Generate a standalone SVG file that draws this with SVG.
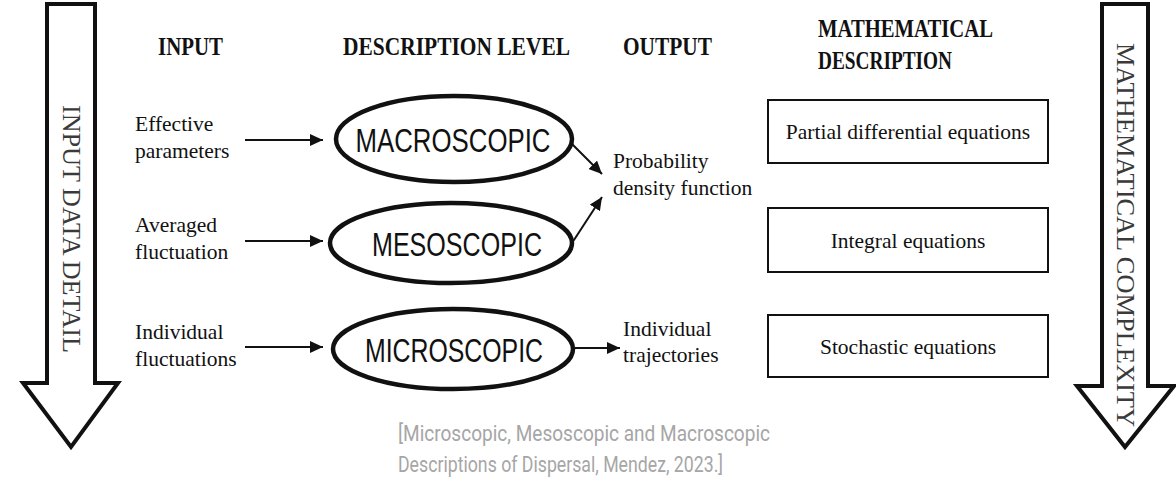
<svg xmlns="http://www.w3.org/2000/svg" width="1176" height="498" viewBox="0 0 1176 498">
<style>
.big{fill:#fff;stroke:#111;stroke-width:4;stroke-linejoin:miter}
.side{font-family:"Liberation Serif","Times New Roman",serif;font-size:25px;fill:#3a3a3a}
.hdr{font-family:"Liberation Serif","Times New Roman",serif;font-size:25px;font-weight:bold;fill:#111}
.txt{font-family:"Liberation Serif","Times New Roman",serif;font-size:21.5px;fill:#111}
.ell{fill:#fff;stroke:#111;stroke-width:4.5}
.etx{font-family:"Liberation Sans",Arial,sans-serif;font-size:33px;fill:#111;text-anchor:middle}
.box{fill:#fff;stroke:#111;stroke-width:2}
.btx{font-family:"Liberation Serif","Times New Roman",serif;font-size:21.5px;fill:#111;text-anchor:middle}
.con{stroke:#111;stroke-width:2;fill:none}
.cap{font-family:Roboto,"Noto Sans",sans-serif;font-size:22px;fill:#a6a6a6}
</style>
<defs>
<marker id="ah" markerUnits="userSpaceOnUse" markerWidth="14" markerHeight="12" refX="13" refY="6" orient="auto">
<path d="M0,0 L13,6 L0,12 Z" fill="#111"/>
</marker>
</defs>
<g id="arrow-input-detail">
<polygon class="big" points="47,4 95,4 95,383 118,383 71,447 23,383 47,383"/>
<text class="side" transform="translate(63,229) rotate(90)" text-anchor="middle" textLength="248" lengthAdjust="spacingAndGlyphs">INPUT DATA DETAIL</text>
</g>
<g id="arrow-math-complexity">
<polygon class="big" points="1102,4 1148,4 1148,386 1174,386 1125,447 1077,386 1102,386"/>
<text class="side" transform="translate(1117,235) rotate(90)" text-anchor="middle" textLength="384" lengthAdjust="spacingAndGlyphs">MATHEMATICAL COMPLEXITY</text>
</g>
<g id="headers">
<text class="hdr" x="158" y="55" textLength="65" lengthAdjust="spacingAndGlyphs">INPUT</text>
<text class="hdr" x="343" y="55" textLength="227" lengthAdjust="spacingAndGlyphs">DESCRIPTION LEVEL</text>
<text class="hdr" x="623" y="55" textLength="89" lengthAdjust="spacingAndGlyphs">OUTPUT</text>
<text class="hdr" x="818" y="37" textLength="175" lengthAdjust="spacingAndGlyphs">MATHEMATICAL</text>
<text class="hdr" x="818" y="69" textLength="134" lengthAdjust="spacingAndGlyphs">DESCRIPTION</text>
</g>
<g id="input-effective">
<text class="txt" x="135" y="131">Effective</text>
<text class="txt" x="135" y="158">parameters</text>
</g>
<g id="input-averaged">
<text class="txt" x="135" y="232">Averaged</text>
<text class="txt" x="135" y="259">fluctuation</text>
</g>
<g id="input-individual">
<text class="txt" x="135" y="339">Individual</text>
<text class="txt" x="135" y="366">fluctuations</text>
</g>
<g id="macroscopic">
<ellipse class="ell" cx="454" cy="139" rx="118" ry="43"/>
<text class="etx" x="453" y="152" textLength="195" lengthAdjust="spacingAndGlyphs">MACROSCOPIC</text>
</g>
<g id="mesoscopic">
<ellipse class="ell" cx="451" cy="243" rx="121" ry="40"/>
<text class="etx" x="457" y="256" textLength="170" lengthAdjust="spacingAndGlyphs">MESOSCOPIC</text>
</g>
<g id="microscopic">
<ellipse class="ell" cx="453" cy="349" rx="120" ry="40"/>
<text class="etx" x="454" y="362" textLength="178" lengthAdjust="spacingAndGlyphs">MICROSCOPIC</text>
</g>
<g id="output-pdf">
<text class="txt" x="613" y="168">Probability</text>
<text class="txt" x="613" y="195">density function</text>
</g>
<g id="output-trajectories">
<text class="txt" x="623" y="336">Individual</text>
<text class="txt" x="623" y="362">trajectories</text>
</g>
<g id="box-pde">
<rect class="box" x="768" y="100" width="280" height="63"/>
<text class="btx" x="908" y="139">Partial differential equations</text>
</g>
<g id="box-integral">
<rect class="box" x="768" y="208" width="280" height="64"/>
<text class="btx" x="908" y="248">Integral equations</text>
</g>
<g id="box-stochastic">
<rect class="box" x="768" y="315" width="280" height="62"/>
<text class="btx" x="908" y="354">Stochastic equations</text>
</g>
<g id="connectors">
<line class="con" x1="245" y1="140" x2="323" y2="140" marker-end="url(#ah)"/>
<line class="con" x1="245" y1="241" x2="323" y2="241" marker-end="url(#ah)"/>
<line class="con" x1="245" y1="347" x2="323" y2="347" marker-end="url(#ah)"/>
<line class="con" x1="572" y1="144" x2="602" y2="174" marker-end="url(#ah)"/>
<line class="con" x1="572" y1="243" x2="602" y2="197" marker-end="url(#ah)"/>
<line class="con" x1="573" y1="348" x2="620" y2="348" marker-end="url(#ah)"/>
</g>
<g id="caption">
<text class="cap" x="398" y="441" textLength="372" lengthAdjust="spacingAndGlyphs">[Microscopic, Mesoscopic and Macroscopic</text>
<text class="cap" x="398" y="472" textLength="325" lengthAdjust="spacingAndGlyphs">Descriptions of Dispersal, Mendez, 2023.]</text>
</g>
</svg>
